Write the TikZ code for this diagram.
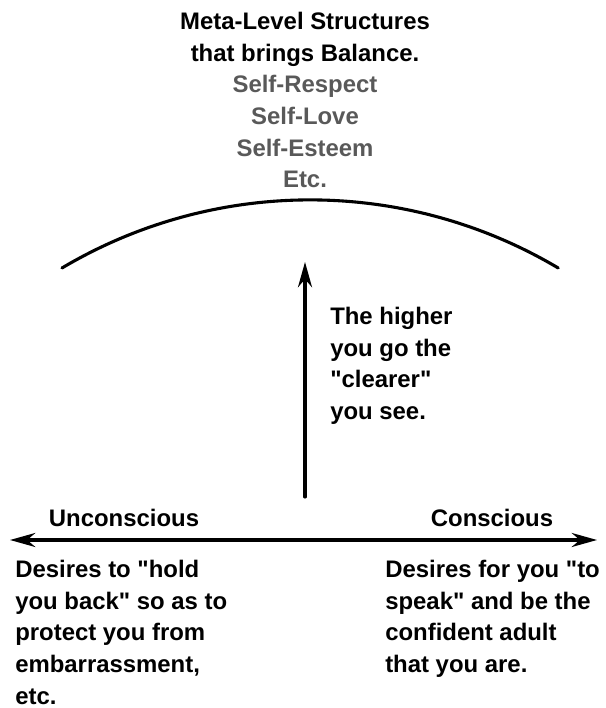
\documentclass[tikz,border=0pt]{standalone}
\usepackage{fontspec}
\setmainfont{Liberation Sans}
\usetikzlibrary{arrows.meta}
\usepackage{xcolor}

\tikzset{
  txt/.style={font=\bfseries\fontsize{17}{22.5}\selectfont, inner sep=0pt},
  thick line/.style={line width=2.2pt, line cap=round},
  tip/.style={-{Stealth[length=18pt,width=10pt]}}
}
\newcommand{\dq}{\textquotedbl}

\begin{document}
\begin{tikzpicture}[x=0.025cm,y=0.025cm]
\useasboundingbox (0,0) rectangle (605,708);

\node[txt, align=center, anchor=north] (top) at (305,696)
  {Meta-Level Structures\\that brings Balance.\\
   \textcolor{black!65}{Self-Respect}\\\textcolor{black!65}{Self-Love}\\
   \textcolor{black!65}{Self-Esteem}\\\textcolor{black!65}{Etc.}};

% the arc
\coordinate (arcL) at (62,440);
\draw[thick line] (arcL) arc[start angle=120.7, end angle=59.3, radius=486];

% going up
\coordinate (base) at (305,211);
\coordinate (peak) at (305,446);
\draw[thick line, tip] (base) -- (peak);
\node[txt, align=left, anchor=north west] (higher) at (330,401)
  {The higher\\you go the\\\dq{}clearer\dq\\you see.};

% the axis
\coordinate (leftend) at (10,168);
\coordinate (rightend) at (597,168);
\draw[thick line, {Stealth[length=18pt,width=10pt]}-{Stealth[length=18pt,width=10pt]}] (leftend) -- (rightend);

\node[txt] (uncon) at (124,190) {Unconscious};
\node[txt] (con) at (492,190) {Conscious};

\node[txt, align=left, anchor=north west] (back) at (15,148)
  {Desires to \dq{}hold\\you back\dq{} so as to\\protect you from\\embarrassment,\\etc.};
\node[txt, align=left, anchor=north west] (speak) at (385,148)
  {Desires for you \dq{}to\\speak\dq{} and be the\\confident adult\\that you are.};
\end{tikzpicture}
\end{document}
